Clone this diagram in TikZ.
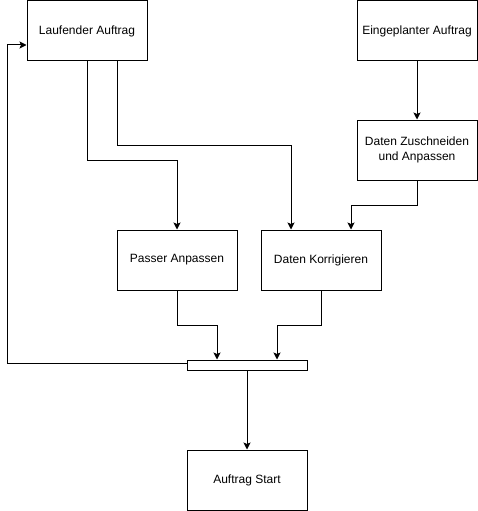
\documentclass[tikz,border=0pt]{standalone}
\usepackage{fontspec}
\setmainfont{Liberation Sans}
\usetikzlibrary{arrows.meta}
\begin{document}
\begin{tikzpicture}[x=1pt,y=-1pt,
  box/.style={draw,line width=1pt,minimum width=120pt,minimum height=60pt,
    inner sep=0pt,align=center,font=\fontsize{12}{15}\selectfont},
  barbox/.style={draw,line width=1pt,minimum width=120pt,minimum height=10pt,inner sep=0pt},
  arr/.style={line width=1pt,-{Stealth[length=7pt,width=7pt,inset=1.5pt]}}]
\useasboundingbox (0,0) rectangle (478,511);

\node[box] (lauf) at (87,31) {Laufender Auftrag};
\node[box] (ein) at (417,31) {Eingeplanter Auftrag};
\node[box] (zus) at (417,150) {Daten Zuschneiden\\und Anpassen};
\node[box] (pass) at (177,260) {Passer Anpassen};
\node[box] (korr) at (321,260) {Daten Korrigieren};
\node[barbox] (bar) at (247,365) {};
\node[box] (start) at (247,480) {Auftrag Start};

\coordinate (fb) at (7,363);

% inputs into the two correction steps
\draw[arr] (lauf.south) -- ++(0,99) -| (pass.north);
\draw[arr] ([xshift=30pt]lauf.south) -- ++(0,84) -| ([xshift=-30pt]korr.north);
\draw[arr] (ein) -- (zus);
\draw[arr] (zus.south) -- ++(0,25) -| ([xshift=30pt]korr.north);
% merge into the bar
\draw[arr] (pass.south) -- ++(0,35) -| ([xshift=-30pt]bar.north);
\draw[arr] (korr.south) -- ++(0,35) -| ([xshift=30pt]bar.north);
% bar outputs
\draw[arr] (bar.south) -- (start.north);
\draw[arr] ([yshift=2pt]bar.west) -- (fb) |- ([yshift=-14pt]lauf.west);
\end{tikzpicture}
\end{document}
